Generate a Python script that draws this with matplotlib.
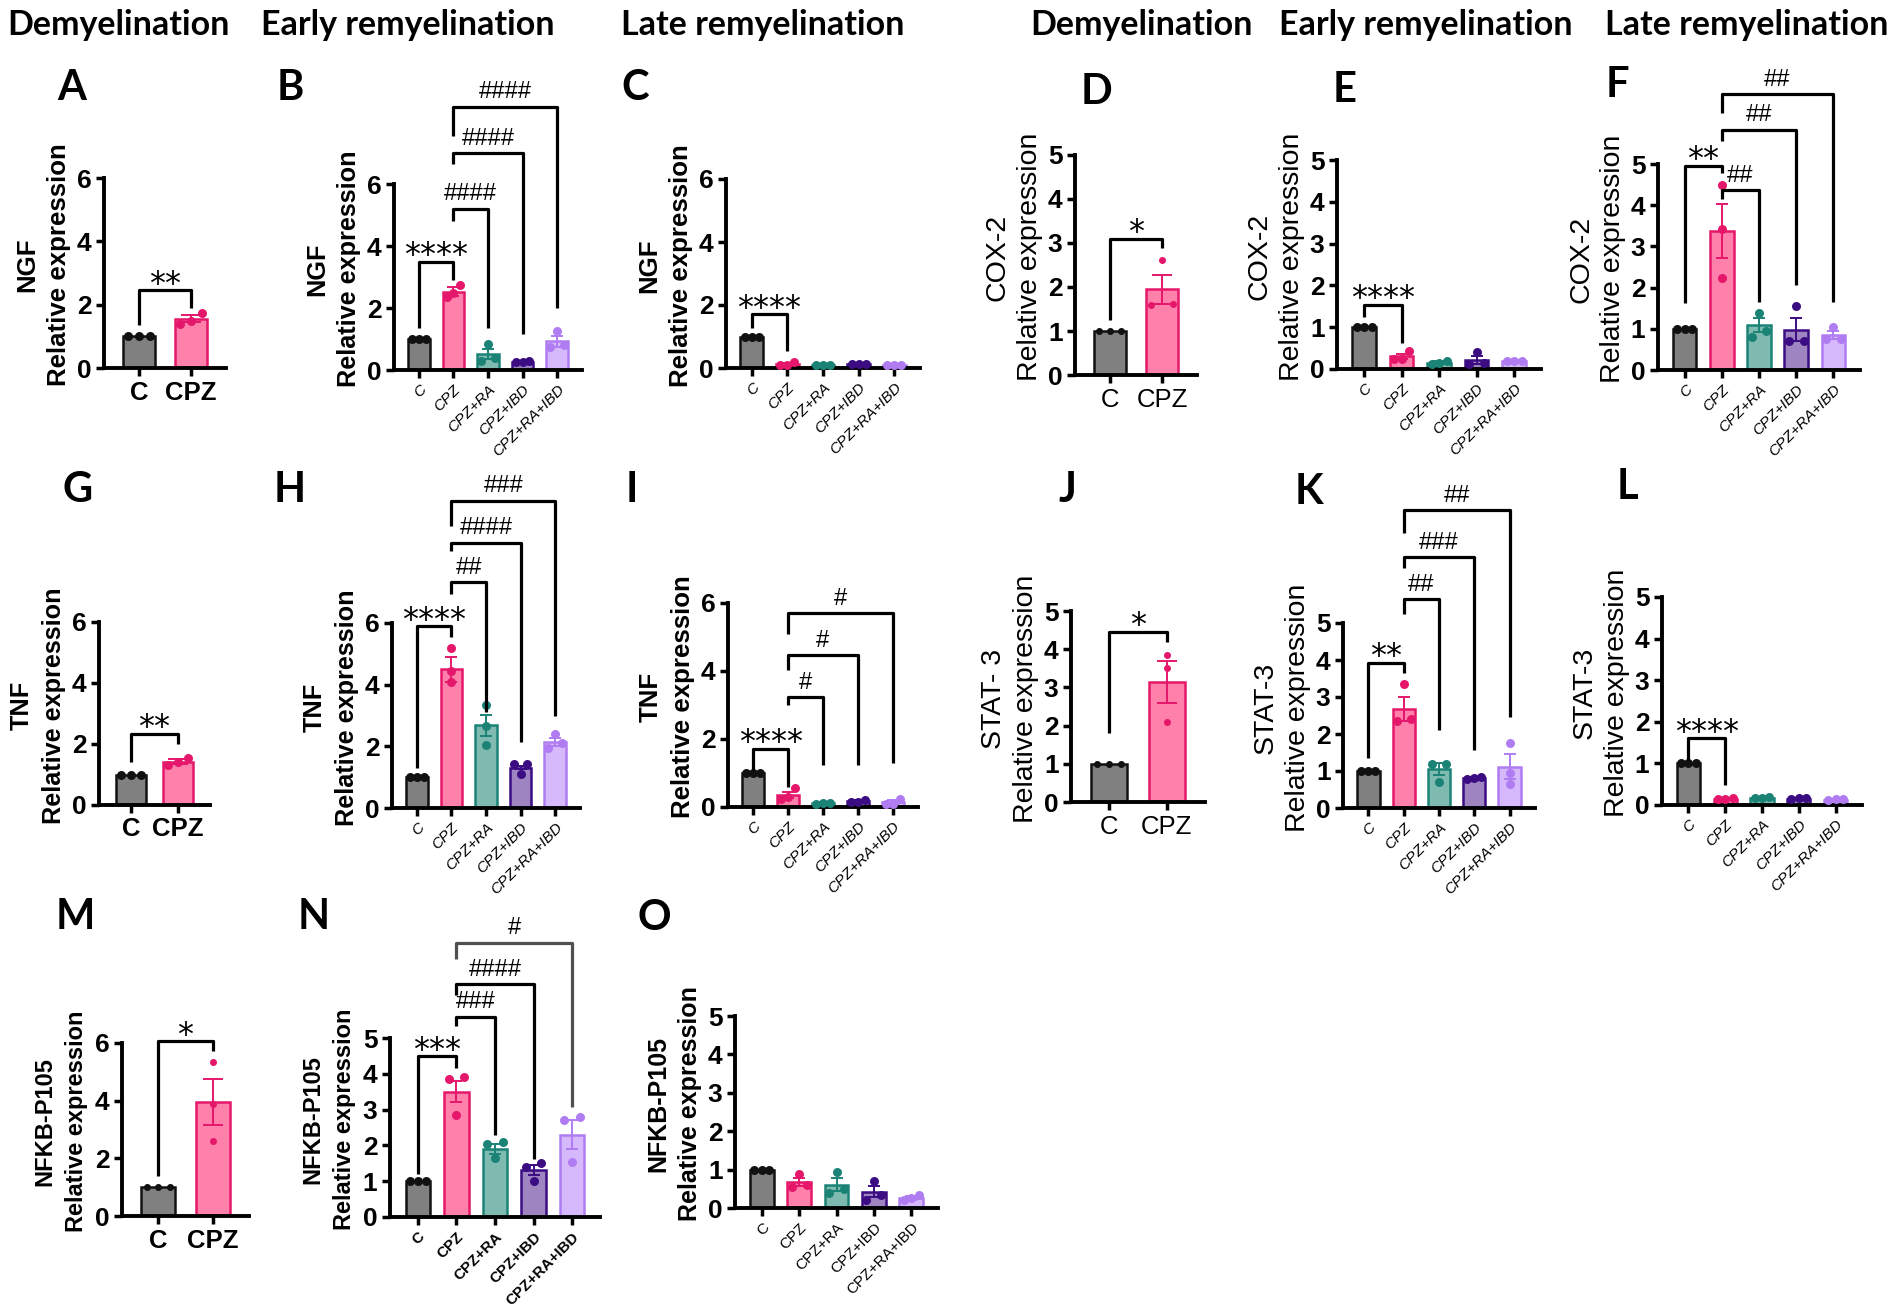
import matplotlib
matplotlib.use("Agg")
import matplotlib.pyplot as plt
import numpy as np

W, H, DPI = 1902, 1312, 100

plt.rcParams["font.family"] = ["Liberation Sans", "DejaVu Sans"]

# ---------------- data ----------------
GROUPS_2 = ["C", "CPZ"]
GROUPS_5 = ["C", "CPZ", "CPZ+RA", "CPZ+IBD", "CPZ+RA+IBD"]

COLUMN_TITLES = ["Demyelination", "Early remyelination", "Late remyelination",
                 "Demyelination", "Early remyelination", "Late remyelination"]

# significance: (group i, group j, bracket top, leg end i, leg end j, label)
NGF_DEMY_MEAN = [1.0, 1.55]
NGF_DEMY_SEM = [0.0, 0.11]
NGF_DEMY_PTS = [[1, 1, 1], [1.75, 1.5, 1.4]]
NGF_DEMY_SIG = [(0, 1, 2.47, 1.35, 1.9, "**")]

NGF_EARLY_MEAN = [1.0, 2.53, 0.52, 0.27, 0.92]
NGF_EARLY_SEM = [0.0, 0.14, 0.15, 0.03, 0.17]
NGF_EARLY_PTS = [[1, 1, 1], [2.75, 2.5, 2.35], [0.85, 0.4, 0.3],
                 [0.3, 0.25, 0.27], [1.25, 0.75, 0.8]]
NGF_EARLY_SIG = [(0, 1, 3.5, 1.35, 2.9, "****"), (1, 2, 5.2, 4.8, 1.35, "####"),
                 (1, 3, 7.0, 6.65, 1.15, "####"), (1, 4, 8.5, 7.55, 2.0, "####")]

NGF_LATE_MEAN = [1.0, 0.13, 0.1, 0.12, 0.1]
NGF_LATE_SEM = [0.0, 0.03, 0.01, 0.02, 0.01]
NGF_LATE_PTS = [[1, 1, 1], [0.2, 0.1, 0.1], [0.1, 0.1, 0.1],
                [0.12, 0.12, 0.12], [0.1, 0.1, 0.1]]
NGF_LATE_SIG = [(0, 1, 1.7, 1.27, 0.53, "****")]

COX2_DEMY_MEAN = [1.0, 1.95]
COX2_DEMY_SEM = [0.0, 0.33]
COX2_DEMY_PTS = [[1, 1, 1], [2.62, 1.62, 1.6]]
COX2_DEMY_SIG = [(0, 1, 3.1, 1.25, 2.88, "*")]

COX2_EARLY_MEAN = [1.0, 0.3, 0.15, 0.22, 0.2]
COX2_EARLY_SEM = [0.0, 0.06, 0.03, 0.1, 0.02]
COX2_EARLY_PTS = [[1, 1, 1], [0.42, 0.25, 0.25], [0.2, 0.12, 0.15],
                  [0.4, 0.15, 0.12], [0.2, 0.18, 0.2]]
COX2_EARLY_SIG = [(0, 1, 1.54, 1.25, 0.62, "****")]

COX2_LATE_MEAN = [1.0, 3.38, 1.1, 0.98, 0.85]
COX2_LATE_SEM = [0.0, 0.66, 0.17, 0.28, 0.1]
COX2_LATE_PTS = [[1, 1, 1], [4.5, 3.42, 2.23], [1.38, 0.95, 0.8],
                 [1.55, 0.7, 0.7], [1.05, 0.75, 0.75]]
COX2_LATE_SIG = [(0, 1, 4.96, 1.62, 4.78, "**"), (1, 2, 4.37, 4.15, 1.66, "##"),
                 (1, 3, 5.83, 5.55, 2.07, "##"), (1, 4, 6.7, 6.24, 1.66, "##")]

TNF_DEMY_MEAN = [1.0, 1.42]
TNF_DEMY_SEM = [0.0, 0.08]
TNF_DEMY_PTS = [[1, 1, 1], [1.55, 1.4, 1.3]]
TNF_DEMY_SIG = [(0, 1, 2.34, 1.42, 2.0, "**")]

TNF_EARLY_MEAN = [1.0, 4.5, 2.68, 1.31, 2.15]
TNF_EARLY_SEM = [0.0, 0.4, 0.33, 0.05, 0.13]
TNF_EARLY_PTS = [[1, 1, 1], [5.2, 4.45, 4.1], [3.35, 2.65, 2.05],
                 [1.42, 1.42, 1.1], [2.4, 2.1, 1.95]]
TNF_EARLY_SIG = [(0, 1, 5.9, 1.29, 5.55, "****"), (1, 2, 7.33, 6.95, 3.12, "##"),
                 (1, 3, 8.6, 8.35, 2.15, "####"), (1, 4, 9.97, 9.16, 3.0, "###")]

TNF_LATE_MEAN = [1.0, 0.35, 0.12, 0.17, 0.15]
TNF_LATE_SEM = [0.0, 0.08, 0.02, 0.03, 0.05]
TNF_LATE_PTS = [[1, 1, 1], [0.55, 0.3, 0.25], [0.12, 0.1, 0.13],
                [0.22, 0.15, 0.15], [0.25, 0.1, 0.1]]
TNF_LATE_SIG = [(0, 1, 1.72, 1.1, 0.59, "****"), (1, 2, 3.24, 3.0, 1.23, "#"),
                (1, 3, 4.47, 4.03, 1.23, "#"), (1, 4, 5.7, 5.1, 1.28, "#")]

STAT3_DEMY_MEAN = [1.0, 3.15]
STAT3_DEMY_SEM = [0.0, 0.55]
STAT3_DEMY_PTS = [[1, 1, 1], [3.85, 3.5, 2.1]]
STAT3_DEMY_SIG = [(0, 1, 4.46, 1.8, 4.2, "*")]

STAT3_EARLY_MEAN = [1.0, 2.68, 1.05, 0.8, 1.12]
STAT3_EARLY_SEM = [0.0, 0.32, 0.17, 0.03, 0.33]
STAT3_EARLY_PTS = [[1, 1, 1], [3.35, 2.4, 2.35], [1.2, 1.2, 0.7],
                   [0.83, 0.8, 0.78], [1.75, 0.95, 0.65]]
STAT3_EARLY_SIG = [(0, 1, 3.93, 1.34, 3.64, "**"), (1, 2, 5.65, 5.23, 2.1, "##"),
                   (1, 3, 6.78, 6.49, 1.56, "###"), (1, 4, 8.05, 7.44, 2.47, "##")]

STAT3_LATE_MEAN = [1.0, 0.15, 0.17, 0.15, 0.13]
STAT3_LATE_SEM = [0.0, 0.02, 0.02, 0.02, 0.02]
STAT3_LATE_PTS = [[1, 1, 1], [0.18, 0.15, 0.15], [0.2, 0.17, 0.18],
                  [0.17, 0.15, 0.17], [0.15, 0.13, 0.15]]
STAT3_LATE_SIG = [(0, 1, 1.6, 1.08, 0.48, "****")]

NFKB_DEMY_MEAN = [1.0, 3.95]
NFKB_DEMY_SEM = [0.0, 0.8]
NFKB_DEMY_PTS = [[1, 1, 1], [5.35, 3.9, 2.6]]
NFKB_DEMY_SIG = [(0, 1, 6.06, 1.37, 5.71, "*")]

NFKB_EARLY_MEAN = [1.0, 3.5, 1.9, 1.3, 2.3]
NFKB_EARLY_SEM = [0.0, 0.3, 0.15, 0.14, 0.4]
NFKB_EARLY_PTS = [[1, 1, 1], [3.9, 3.85, 2.85], [2.1, 2.05, 1.65],
                  [1.5, 1.4, 1.0], [2.8, 2.7, 1.55]]
NFKB_EARLY_SIG = [(0, 1, 4.49, 1.21, 4.16, "***"), (1, 2, 5.6, 5.33, 2.29, "###"),
                  (1, 3, 6.5, 6.21, 1.63, "####"), (1, 4, 7.66, 7.2, 3.08, "#")]

NFKB_LATE_MEAN = [1.0, 0.68, 0.6, 0.42, 0.25]
NFKB_LATE_SEM = [0.0, 0.1, 0.17, 0.14, 0.05]
NFKB_LATE_PTS = [[1, 1, 1], [0.88, 0.6, 0.55], [0.95, 0.5, 0.4],
                 [0.7, 0.35, 0.22], [0.33, 0.25, 0.2]]
NFKB_LATE_SIG = []

# ---------------- style ----------------
FACE = ["#808080", "#ff80ab", "#7fbab1", "#9e85c2", "#d6b8fc"]
EDGE = ["#111111", "#e5176b", "#1b8376", "#3b0c82", "#b07cf2"]

# panel: letter, gene, data, ymax, axes box (left, top, right, bottom px),
# letter position, y-label size, gene weight, "Relative expression" weight,
# x tick label style
PANELS = [
    ("A", "NGF", GROUPS_2, NGF_DEMY_MEAN, NGF_DEMY_SEM, NGF_DEMY_PTS, NGF_DEMY_SIG, 6,
     (104, 178, 226, 368), (72, 88), 18.6, "bold", "bold", "bold"),
    ("B", "NGF", GROUPS_5, NGF_EARLY_MEAN, NGF_EARLY_SEM, NGF_EARLY_PTS, NGF_EARLY_SIG, 6,
     (394, 184, 582, 370), (290, 88), 18.2, "bold", "bold", "italic"),
    ("C", "NGF", GROUPS_5, NGF_LATE_MEAN, NGF_LATE_SEM, NGF_LATE_PTS, NGF_LATE_SIG, 6,
     (726, 179, 920, 368), (635, 88), 18.6, "bold", "bold", "italic"),
    ("D", "COX-2", GROUPS_2, COX2_DEMY_MEAN, COX2_DEMY_SEM, COX2_DEMY_PTS, COX2_DEMY_SIG, 5,
     (1075, 155, 1197, 375), (1097, 92), 20.5, "normal", "normal", "normal"),
    ("E", "COX-2", GROUPS_5, COX2_EARLY_MEAN, COX2_EARLY_SEM, COX2_EARLY_PTS, COX2_EARLY_SIG, 5,
     (1337, 160, 1541, 369), (1345, 90), 20.5, "normal", "normal", "italic"),
    ("F", "COX-2", GROUPS_5, COX2_LATE_MEAN, COX2_LATE_SEM, COX2_LATE_PTS, COX2_LATE_SIG, 5,
     (1658, 164, 1860, 370), (1617, 85), 20.5, "normal", "normal", "italic"),
    ("G", "TNF", GROUPS_2, TNF_DEMY_MEAN, TNF_DEMY_SEM, TNF_DEMY_PTS, TNF_DEMY_SIG, 6,
     (99, 622, 210, 805), (78, 490), 18.2, "bold", "bold", "bold"),
    ("H", "TNF", GROUPS_5, TNF_EARLY_MEAN, TNF_EARLY_SEM, TNF_EARLY_PTS, TNF_EARLY_SIG, 6,
     (392, 623, 580, 808), (290, 490), 18.2, "bold", "bold", "italic"),
    ("I", "TNF", GROUPS_5, TNF_LATE_MEAN, TNF_LATE_SEM, TNF_LATE_PTS, TNF_LATE_SIG, 6,
     (728, 603, 918, 807), (632, 490), 18.6, "bold", "bold", "italic"),
    ("J", "STAT- 3", GROUPS_2, STAT3_DEMY_MEAN, STAT3_DEMY_SEM, STAT3_DEMY_PTS, STAT3_DEMY_SIG, 5,
     (1071, 611, 1205, 802), (1067, 490), 20.5, "normal", "normal", "normal"),
    ("K", "STAT-3", GROUPS_5, STAT3_EARLY_MEAN, STAT3_EARLY_SEM, STAT3_EARLY_PTS, STAT3_EARLY_SIG, 5,
     (1343, 623, 1535, 808), (1309, 492), 20.5, "normal", "normal", "italic"),
    ("L", "STAT-3", GROUPS_5, STAT3_LATE_MEAN, STAT3_LATE_SEM, STAT3_LATE_PTS, STAT3_LATE_SIG, 5,
     (1662, 597, 1862, 805), (1627, 487), 20.5, "normal", "normal", "italic"),
    ("M", "NFKB-P105", GROUPS_2, NFKB_DEMY_MEAN, NFKB_DEMY_SEM, NFKB_DEMY_PTS, NFKB_DEMY_SIG, 6,
     (122, 1043, 249, 1216), (75, 917), 17, "bold", "bold", "bold"),
    ("N", "NFKB-P105", GROUPS_5, NFKB_EARLY_MEAN, NFKB_EARLY_SEM, NFKB_EARLY_PTS, NFKB_EARLY_SIG, 5,
     (390, 1038, 600, 1217), (314, 917), 17, "bold", "bold", "upright_bold"),
    ("O", "NFKB-P105", GROUPS_5, NFKB_LATE_MEAN, NFKB_LATE_SEM, NFKB_LATE_PTS, NFKB_LATE_SIG, 5,
     (735, 1016, 938, 1208), (654, 918), 18, "bold", "bold", "upright"),
]

TITLE_X = [118, 408, 763, 1141, 1426, 1747]
TITLE_Y = 25


def spread_offsets(vals, min_gap, step):
    """Spread overlapping points sideways, like a GraphPad scatter."""
    vals = np.asarray(vals, dtype=float)
    order = np.argsort(vals)
    offs = np.zeros(len(vals))
    clusters, cur = [], [order[0]]
    for k in order[1:]:
        if vals[k] - vals[cur[-1]] < min_gap:
            cur.append(k)
        else:
            clusters.append(cur)
            cur = [k]
    clusters.append(cur)
    for c in clusters:
        if len(c) > 1:
            for pos, idx in zip(np.linspace(-step, step, len(c)), c):
                offs[idx] = pos
    return offs


def draw_panel(fig, spec):
    (letter, gene, groups, means, sems, pts, sigs, ymax, box, letter_pos,
     label_size, gene_weight, rel_weight, xstyle) = spec
    left, top, right, bottom = box
    ax = fig.add_axes([left / W, 1 - bottom / H, (right - left) / W, (bottom - top) / H])
    two = len(groups) == 2
    x = np.arange(len(groups))
    width = 0.63
    ax.bar(x, means, width=width, color=FACE[:len(groups)],
           edgecolor=EDGE[:len(groups)], linewidth=1.8, zorder=2)

    for i in range(len(groups)):
        if sems[i] > 0:
            ax.errorbar(x[i], means[i], yerr=sems[i], fmt="none", ecolor=EDGE[i],
                        elinewidth=1.4, capsize=7 if two else 4.5, capthick=1.4, zorder=3)

    ppu = (bottom - top) / ymax
    dot_px = 7 if letter in "DJM" else 9
    for i in range(len(groups)):
        offs = spread_offsets(pts[i], dot_px / ppu, 0.21 if two else 0.2)
        ax.scatter(x[i] + offs, pts[i], s=(dot_px * 0.72) ** 2, color=EDGE[i],
                   zorder=4, linewidths=0, clip_on=False)

    for (i, j, ytop, yi, yj, lab) in sigs:
        color = "#505050" if (letter == "N" and j == 4) else "black"
        ax.plot([x[i], x[i], x[j], x[j]], [yi, ytop, ytop, yj], color=color,
                lw=2.3, clip_on=False, zorder=5, solid_capstyle="butt")
        mid = (x[i] + x[j]) / 2
        if lab.startswith("*"):
            ax.annotate(lab, (mid, ytop), xytext=(0, -2), textcoords="offset points",
                        ha="center", va="baseline", fontsize=23,
                        family="DejaVu Sans", annotation_clip=False)
        else:
            ax.annotate(lab, (mid, ytop), xytext=(0, 6), textcoords="offset points",
                        ha="center", va="baseline", fontsize=17, annotation_clip=False)

    ax.set_ylim(0, ymax)
    ax.set_xlim((-0.67, 1.67) if two else (-0.72, 4.72))
    ax.set_yticks(range(0, ymax + 1, 2 if ymax == 6 else 1))
    for lab in ax.get_yticklabels():
        lab.set_fontweight("bold")
        lab.set_fontsize(19)
    ax.set_xticks(x)
    if two:
        ax.set_xticklabels(groups, fontsize=18.5, fontweight=xstyle)
    else:
        ax.set_xticklabels(groups, fontsize=11, rotation=45, ha="right",
                           rotation_mode="anchor",
                           style="italic" if xstyle == "italic" else "normal",
                           fontweight="bold" if xstyle == "upright_bold" else "normal")
    ax.tick_params(direction="out", length=6, width=2.5, pad=3)
    for side in ("top", "right"):
        ax.spines[side].set_visible(False)
    for side in ("left", "bottom"):
        ax.spines[side].set_linewidth(2.8)
    ax.set_facecolor("none")

    # two-line y label: gene name (outer) and "Relative expression" (inner)
    cy = 1 - ((top + bottom) / 2 - 8) / H
    fig.text((left - 45) / W, cy, "Relative expression", rotation=90, ha="center",
             va="center", fontsize=label_size, fontweight=rel_weight)
    fig.text((left - 77) / W, cy, gene, rotation=90, ha="center", va="center",
             fontsize=label_size, fontweight=gene_weight)

    fig.text(letter_pos[0] / W, 1 - letter_pos[1] / H, letter, fontsize=30,
             family="Lato", fontweight="bold", ha="center", va="center")


def main():
    fig = plt.figure(figsize=(W / DPI, H / DPI), dpi=DPI)
    for title, tx in zip(COLUMN_TITLES, TITLE_X):
        fig.text(tx / W, 1 - TITLE_Y / H, title, fontsize=24.5, family="Lato",
                 fontweight="bold", ha="center", va="center")
    for spec in PANELS:
        draw_panel(fig, spec)
    fig.savefig("out.png", dpi=DPI)


if __name__ == "__main__":
    main()
